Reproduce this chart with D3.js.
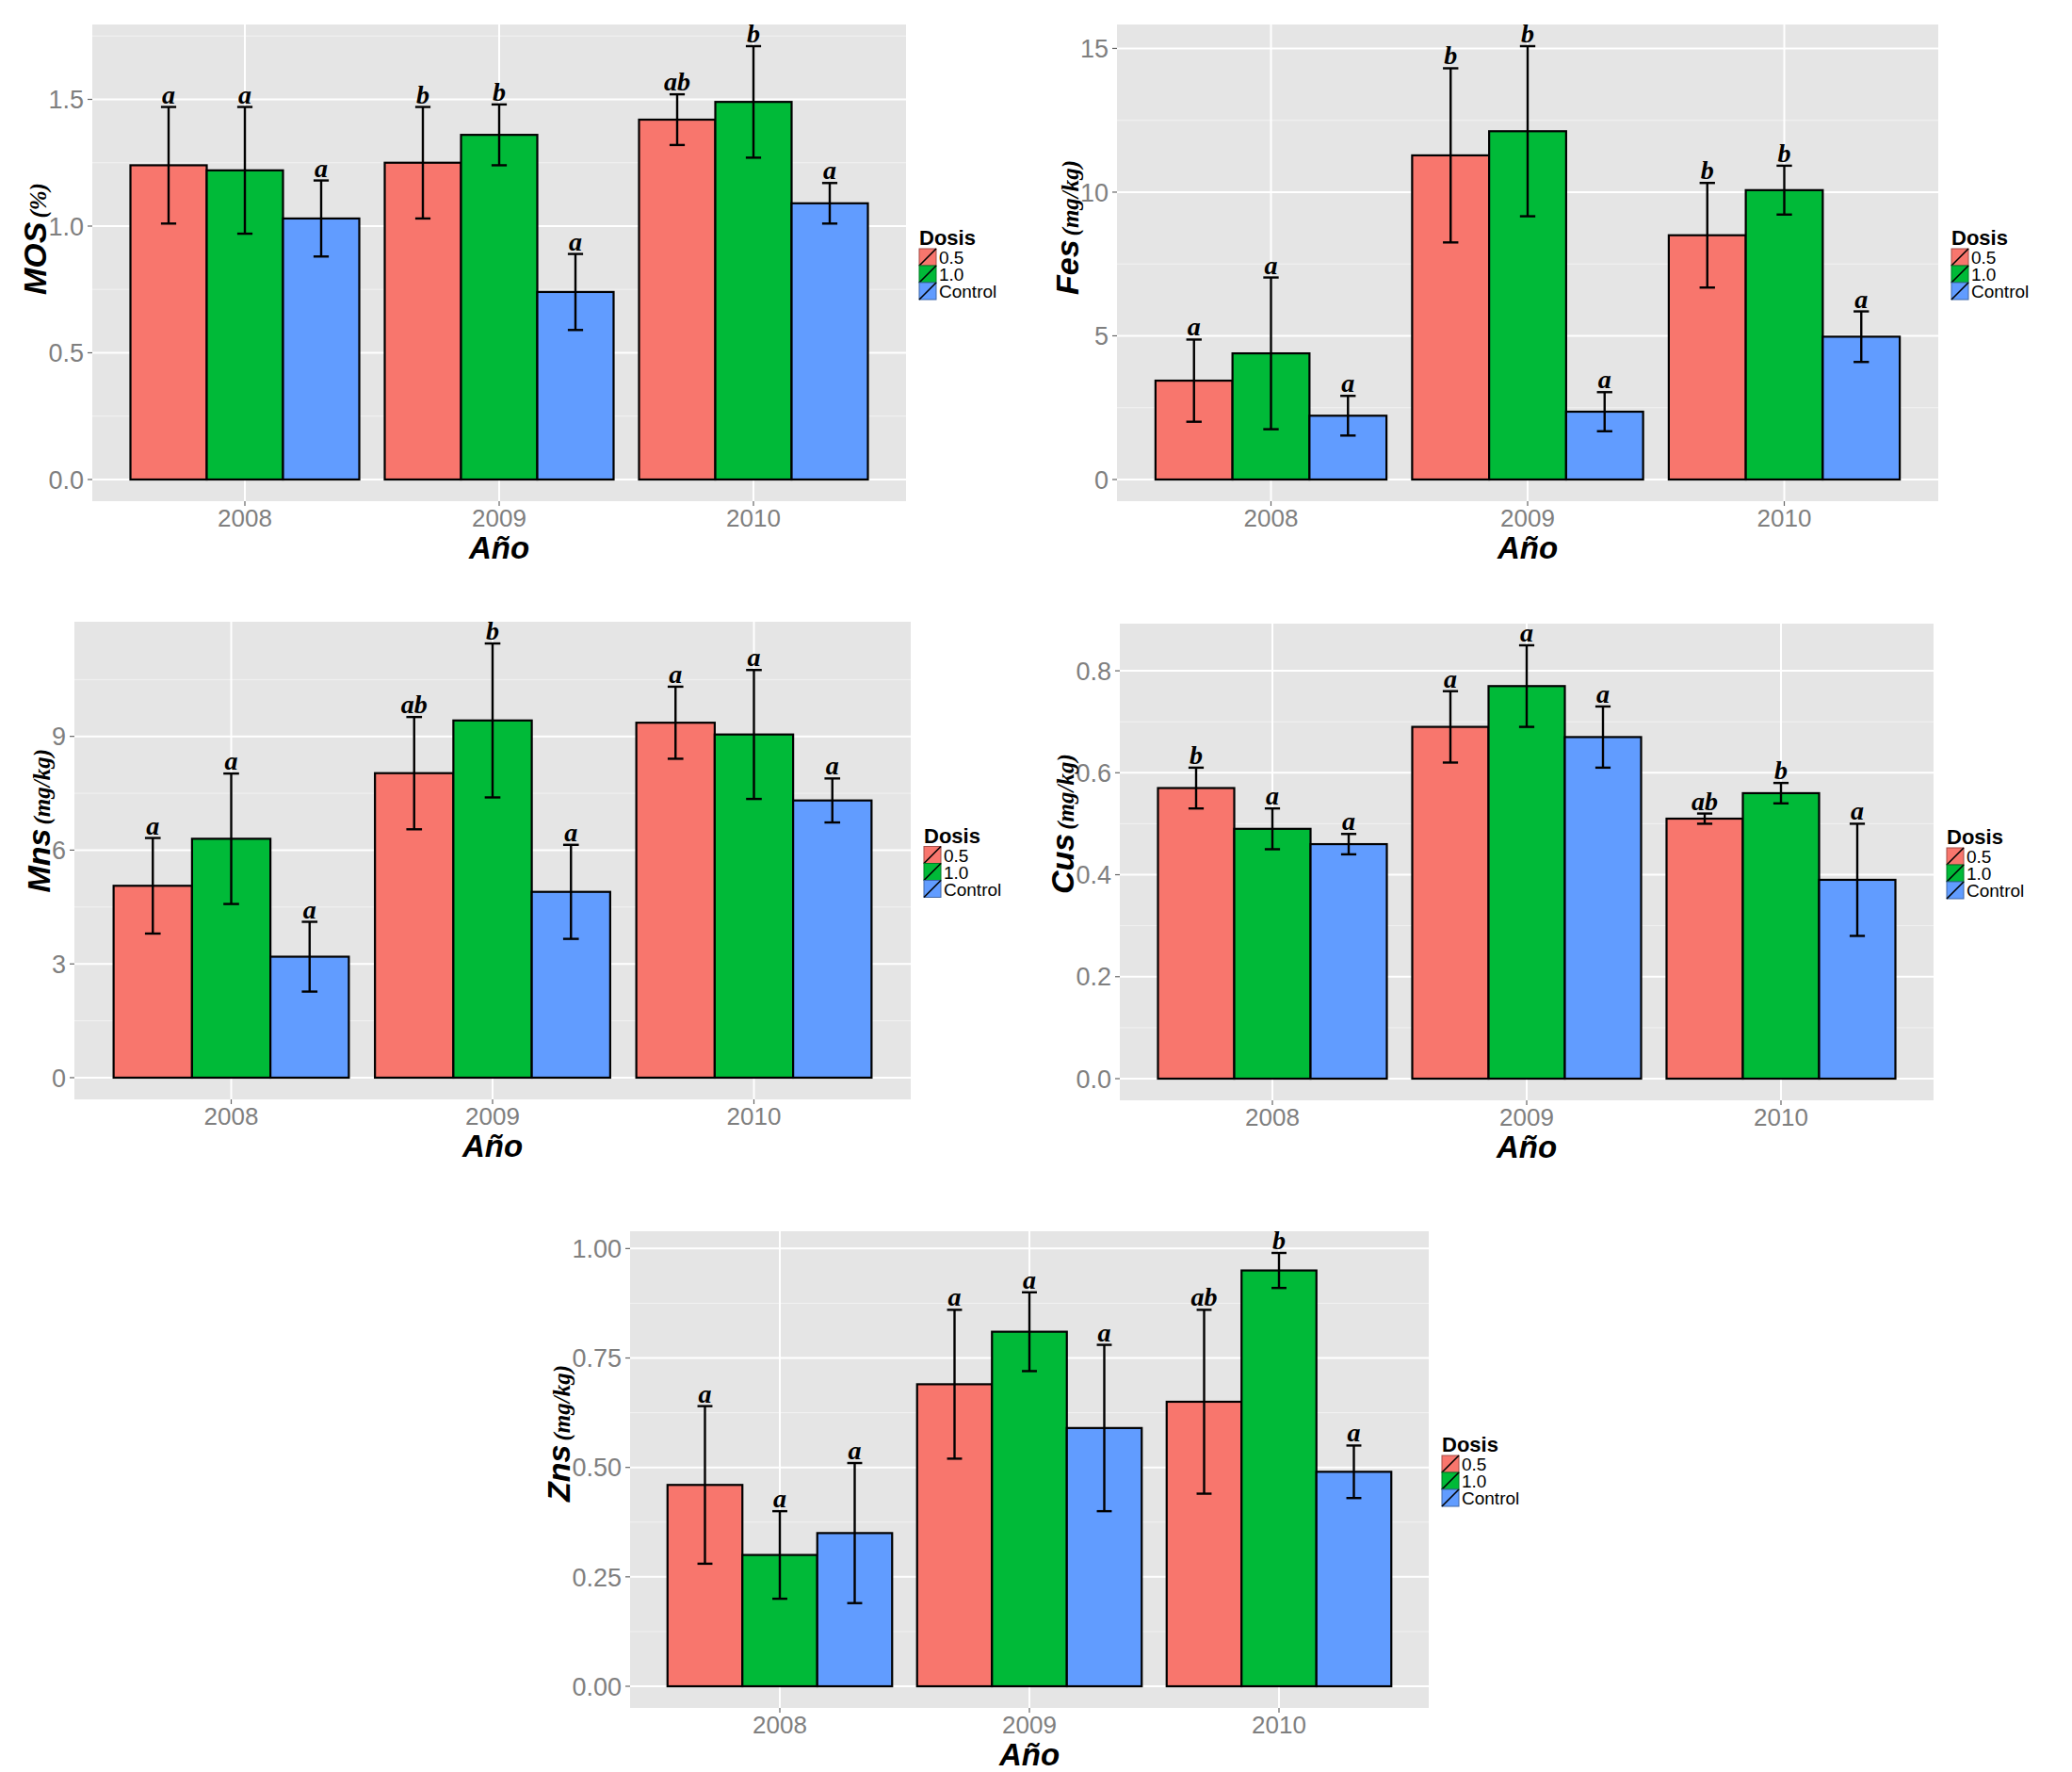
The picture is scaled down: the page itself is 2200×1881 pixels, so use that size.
<!DOCTYPE html>
<html><head><meta charset="utf-8">
<script src="https://cdn.jsdelivr.net/npm/d3@7"></script>
<style>body{margin:0;background:#fff}svg{display:block}</style>
</head><body>
<svg id="c" width="2200" height="1881"></svg>
<script>
// ---------- data ----------
const years = ["2008", "2009", "2010"];
const doses = ["0.5", "1.0", "Control"];
const legendTitle = "Dosis";
const xTitle = "Año";

const mosMean = [[1.24, 1.22, 1.03], [1.25, 1.36, 0.74], [1.42, 1.49, 1.09]];
const mosSE = [[0.23, 0.25, 0.15], [0.22, 0.12, 0.15], [0.10, 0.22, 0.08]];
const mosLetters = [["a", "a", "a"], ["b", "b", "a"], ["ab", "b", "a"]];
const mosTicks = [0, 0.5, 1.0, 1.5];

const fesMean = [[3.44, 4.39, 2.22], [11.28, 12.12, 2.36], [8.50, 10.07, 4.97]];
const fesSE = [[1.43, 2.64, 0.69], [3.03, 2.96, 0.68], [1.82, 0.85, 0.88]];
const fesLetters = [["a", "a", "a"], ["b", "b", "a"], ["b", "b", "a"]];
const fesTicks = [0, 5, 10, 15];

const mnsMean = [[5.06, 6.30, 3.19], [8.03, 9.42, 4.90], [9.36, 9.05, 7.31]];
const mnsSE = [[1.26, 1.72, 0.92], [1.48, 2.03, 1.24], [0.95, 1.70, 0.58]];
const mnsLetters = [["a", "a", "a"], ["ab", "b", "a"], ["a", "a", "a"]];
const mnsTicks = [0, 3, 6, 9];

const cusMean = [[0.57, 0.49, 0.46], [0.69, 0.77, 0.67], [0.51, 0.56, 0.39]];
const cusSE = [[0.04, 0.04, 0.02], [0.07, 0.08, 0.06], [0.01, 0.02, 0.11]];
const cusLetters = [["b", "a", "a"], ["a", "a", "a"], ["ab", "b", "a"]];
const cusTicks = [0, 0.2, 0.4, 0.6, 0.8];

const znsMean = [[0.46, 0.30, 0.35], [0.69, 0.81, 0.59], [0.65, 0.95, 0.49]];
const znsSE = [[0.18, 0.10, 0.16], [0.17, 0.09, 0.19], [0.21, 0.04, 0.06]];
const znsLetters = [["a", "a", "a"], ["a", "a", "a"], ["ab", "b", "a"]];
const znsTicks = [0, 0.25, 0.50, 0.75, 1.00];

// ---------- layout / style ----------
const fills = ["#F8766D", "#00BA38", "#619CFF"];
const panels = [
  {name: "MOS", unit: "(%)", mean: mosMean, se: mosSE, letters: mosLetters, ticks: mosTicks, fmt: ".1f",
   box: {l: 98, r: 962, t: 26, b: 532}},
  {name: "Fes", unit: "(mg/kg)", mean: fesMean, se: fesSE, letters: fesLetters, ticks: fesTicks, fmt: "d",
   box: {l: 1186, r: 2058, t: 26, b: 532}},
  {name: "Mns", unit: "(mg/kg)", mean: mnsMean, se: mnsSE, letters: mnsLetters, ticks: mnsTicks, fmt: "d",
   box: {l: 79, r: 967, t: 660, b: 1167}},
  {name: "Cus", unit: "(mg/kg)", mean: cusMean, se: cusSE, letters: cusLetters, ticks: cusTicks, fmt: ".1f",
   box: {l: 1189, r: 2053, t: 662, b: 1168}},
  {name: "Zns", unit: "(mg/kg)", mean: znsMean, se: znsSE, letters: znsLetters, ticks: znsTicks, fmt: ".2f",
   box: {l: 669, r: 1517, t: 1307, b: 1813}}
];

const svg = d3.select("#c");
svg.append("rect").attr("width", 2200).attr("height", 1881).attr("fill", "#fff");

const SANS = "'Liberation Sans', Arial, sans-serif";
const SERIF = "'Liberation Serif', 'Times New Roman', serif";

panels.forEach(p => {
  const B = p.box;
  const g = svg.append("g");
  let maxTop = 0;
  p.mean.forEach((row, i) => row.forEach((m, j) => { maxTop = Math.max(maxTop, m + p.se[i][j]); }));
  const y = d3.scaleLinear().domain([-0.05 * maxTop, 1.05 * maxTop]).range([B.b, B.t]);
  const x = d3.scaleLinear().domain([0.4, 3.6]).range([B.l, B.r]);

  // background
  g.append("rect").attr("x", B.l).attr("y", B.t).attr("width", B.r - B.l).attr("height", B.b - B.t).attr("fill", "#E5E5E5");

  // minor grid
  const step = p.ticks[1] - p.ticks[0];
  const minors = [];
  for (let v = p.ticks[0] + step / 2; v <= y.domain()[1]; v += step) minors.push(v);
  g.selectAll(".mn").data(minors).enter().append("line")
    .attr("x1", B.l).attr("x2", B.r).attr("y1", d => y(d)).attr("y2", d => y(d))
    .attr("stroke", "#F2F2F2").attr("stroke-width", 1);
  // major grid
  g.selectAll(".mj").data(p.ticks).enter().append("line")
    .attr("x1", B.l).attr("x2", B.r).attr("y1", d => y(d)).attr("y2", d => y(d))
    .attr("stroke", "#fff").attr("stroke-width", 2);
  g.selectAll(".mx").data(years).enter().append("line")
    .attr("x1", (d, i) => x(i + 1)).attr("x2", (d, i) => x(i + 1)).attr("y1", B.t).attr("y2", B.b)
    .attr("stroke", "#fff").attr("stroke-width", 2);

  // y axis ticks + labels
  const f = d3.format(p.fmt);
  g.selectAll(".yt").data(p.ticks).enter().append("line")
    .attr("x1", B.l - 5).attr("x2", B.l).attr("y1", d => y(d)).attr("y2", d => y(d))
    .attr("stroke", "#666").attr("stroke-width", 1.2);
  const yl = g.selectAll(".yl").data(p.ticks).enter().append("text")
    .attr("x", B.l - 9).attr("y", d => y(d)).attr("dy", "0.36em")
    .attr("text-anchor", "end").attr("font-family", SANS).attr("font-size", 27).attr("fill", "#7F7F7F")
    .text(d => f(d));
  let maxW = 0;
  yl.each(function () { maxW = Math.max(maxW, this.getComputedTextLength()); });

  // x axis ticks + labels
  g.selectAll(".xt").data(years).enter().append("line")
    .attr("x1", (d, i) => x(i + 1)).attr("x2", (d, i) => x(i + 1)).attr("y1", B.b).attr("y2", B.b + 5)
    .attr("stroke", "#666").attr("stroke-width", 1.2);
  g.selectAll(".xl").data(years).enter().append("text")
    .attr("x", (d, i) => x(i + 1)).attr("y", B.b + 27)
    .attr("text-anchor", "middle").attr("font-family", SANS).attr("font-size", 26).attr("fill", "#7F7F7F")
    .text(d => d);

  // bars
  const flat = [];
  years.forEach((yr, i) => doses.forEach((ds, j) => flat.push({i, j, m: p.mean[i][j], s: p.se[i][j], l: p.letters[i][j]})));
  const bw = 0.3;
  const bx = d => (d.i + 1) - 0.45 + d.j * bw;
  g.selectAll(".bar").data(flat).enter().append("rect")
    .attr("x", d => x(bx(d))).attr("width", d => x(bx(d) + bw) - x(bx(d)))
    .attr("y", d => y(d.m)).attr("height", d => y(0) - y(d.m))
    .attr("fill", d => fills[d.j]).attr("stroke", "#000").attr("stroke-width", 2.2);

  // error bars
  const cw = bw * 0.2;
  const eb = g.selectAll(".eb").data(flat).enter().append("g")
    .attr("stroke", "#000").attr("stroke-width", 2.4);
  eb.append("line").attr("x1", d => x(bx(d) + bw / 2)).attr("x2", d => x(bx(d) + bw / 2))
    .attr("y1", d => y(d.m - d.s)).attr("y2", d => y(d.m + d.s));
  eb.append("line").attr("x1", d => x(bx(d) + bw / 2 - cw / 2)).attr("x2", d => x(bx(d) + bw / 2 + cw / 2))
    .attr("y1", d => y(d.m + d.s)).attr("y2", d => y(d.m + d.s));
  eb.append("line").attr("x1", d => x(bx(d) + bw / 2 - cw / 2)).attr("x2", d => x(bx(d) + bw / 2 + cw / 2))
    .attr("y1", d => y(d.m - d.s)).attr("y2", d => y(d.m - d.s));

  // letters
  g.selectAll(".lt").data(flat).enter().append("text")
    .attr("x", d => x(bx(d) + bw / 2)).attr("y", d => y(d.m + d.s) - 4)
    .attr("text-anchor", "middle").attr("font-family", SERIF).attr("font-weight", "bold")
    .attr("font-style", "italic").attr("font-size", 28).attr("fill", "#000")
    .text(d => d.l);

  // axis titles
  g.append("text").attr("x", (B.l + B.r) / 2).attr("y", B.b + 61)
    .attr("text-anchor", "middle").attr("font-family", SANS).attr("font-weight", "bold")
    .attr("font-style", "italic").attr("font-size", 33).attr("fill", "#000").text(xTitle);
  const cy = (B.t + B.b) / 2;
  const tx = B.l - 9 - maxW - 2;
  const yt = g.append("text").attr("transform", `translate(${tx},${cy + 34}) rotate(-90)`)
    .attr("text-anchor", "start").attr("fill", "#000");
  yt.append("tspan").attr("font-family", SANS).attr("font-weight", "bold").attr("font-style", "italic")
    .attr("font-size", 34).text(p.name);
  yt.append("tspan").attr("dx", 4).attr("font-family", SERIF).attr("font-weight", "bold").attr("font-style", "italic")
    .attr("font-size", 25).text(p.unit);

  // legend
  const ks = 18;
  const lx = B.r + 14, ly = cy - 15;
  const lg = g.append("g");
  lg.append("text").attr("x", lx).attr("y", ly - 4).attr("font-family", SANS).attr("font-weight", "bold")
    .attr("font-size", 22).attr("fill", "#000").text(legendTitle);
  doses.forEach((ds, j) => {
    const ky = ly + j * ks;
    lg.append("rect").attr("x", lx).attr("y", ky).attr("width", ks).attr("height", ks)
      .attr("fill", fills[j]).attr("stroke", d3.color(fills[j]).darker(1.2)).attr("stroke-width", 1);
    lg.append("line").attr("x1", lx).attr("y1", ky + ks).attr("x2", lx + ks).attr("y2", ky)
      .attr("stroke", "#000").attr("stroke-width", 1.6);
    lg.append("text").attr("x", lx + ks + 3).attr("y", ky + ks - 2).attr("font-family", SANS)
      .attr("font-size", 19).attr("fill", "#000").text(ds);
  });
});
</script>
</body></html>
